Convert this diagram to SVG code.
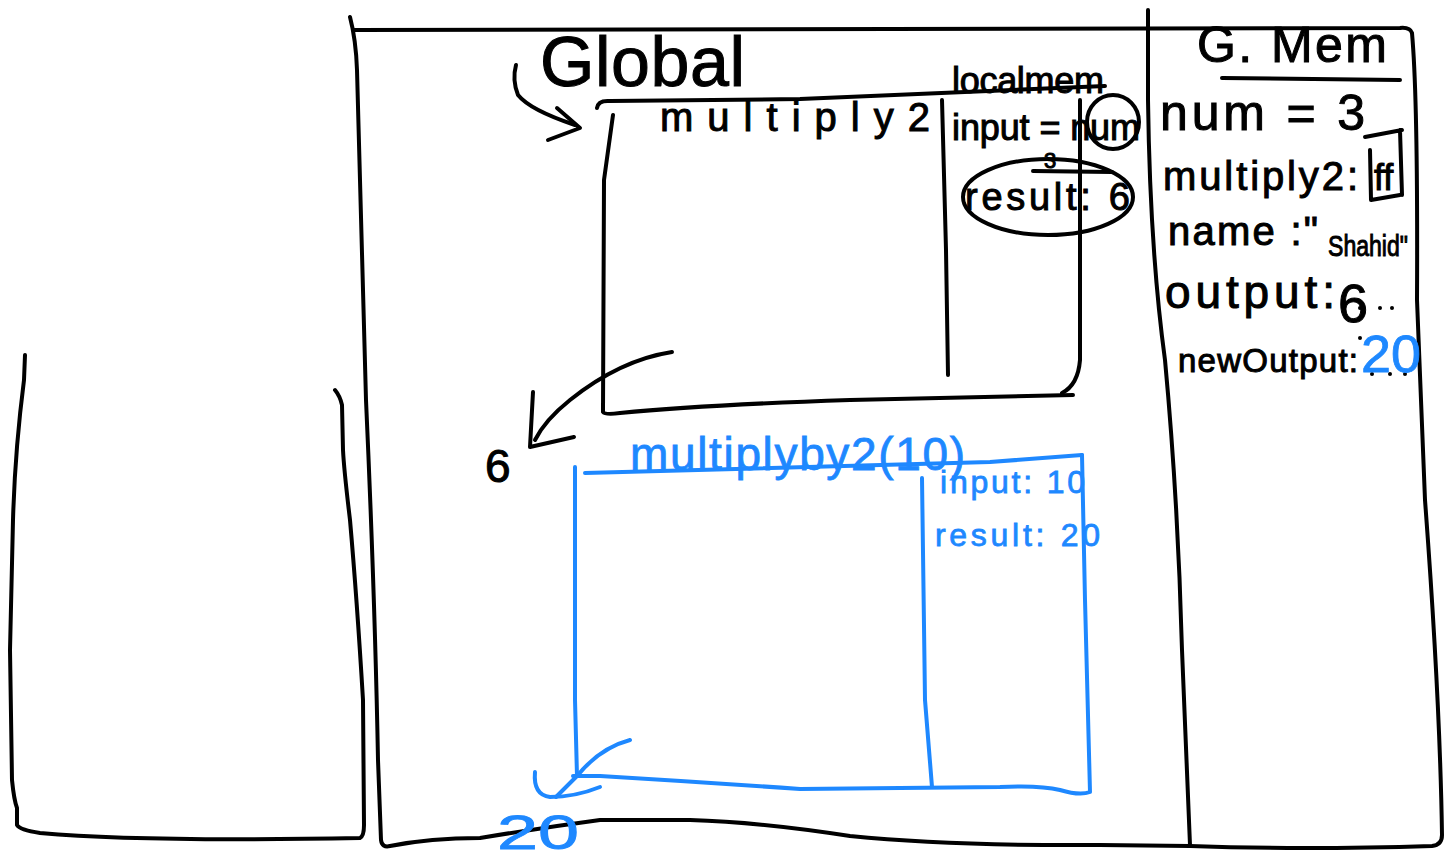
<svg xmlns="http://www.w3.org/2000/svg" width="1456" height="862" viewBox="0 0 1456 862">
<style>
.k{fill:none;stroke:#000;stroke-width:4;stroke-linecap:round;stroke-linejoin:round}
.b{fill:none;stroke:#1E88FF;stroke-width:4;stroke-linecap:round;stroke-linejoin:round}
.t{font-family:"Liberation Sans",Arial,sans-serif;fill:#000;stroke:#000;stroke-width:1}
.tb{font-family:"Liberation Sans",Arial,sans-serif;fill:#1E88FF;stroke:#1E88FF;stroke-width:0.8}
</style>
<rect width="1456" height="862" fill="#fff"/>

<g id="left-panel">
<path class="k" d="M25,355 L24,380 Q15,450 13,520 L10,650 L12,780 Q14,800 17,808 L17,825 Q20,830 40,833 Q140,842 360,838 Q364,836 364,825 L363,700 Q357,600 350,520 Q344,470 343,450 L342,405 Q340,396 335,390"/>
</g>

<g id="main-frame">
<path class="k" d="M350,17 Q356,40 357,70 L366,400 Q375,600 378,760 L381,840 Q382,848 390,846 Q430,838 480,838 Q540,828 600,820 L690,820 Q760,822 850,836 Q950,846 1100,845 L1190,846 Q1300,850 1432,846 Q1442,845 1442,835 Q1440,700 1425,500 L1417,300 Q1418,100 1412,33 Q1410,27 1400,28 L355,30"/>
<path class="k" d="M1148,10 L1148,100 Q1150,250 1165,360 Q1178,500 1182,650 L1190,845"/>
</g>

<g id="global-label">
<text class="t" x="540" y="86" font-size="70" textLength="205" lengthAdjust="spacing">Global</text>
</g>

<g id="memory">
<text class="t" x="1197" y="62" font-size="50" textLength="190" lengthAdjust="spacing">G. Mem</text>
<path class="k" d="M1222,78 L1400,80"/>
<text class="t" x="1160" y="130" font-size="50" textLength="205" lengthAdjust="spacing">num = 3</text>
<text class="t" x="1163" y="190" font-size="40" textLength="195" lengthAdjust="spacing">multiply2:</text>
<path class="k" d="M1365,137 L1402,130 M1400,130 L1402,195 M1370,150 L1371,200 L1400,195"/>
<text class="t" x="1374" y="190" font-size="36">ff</text>
<text class="t" x="1168" y="245" font-size="40" textLength="150" lengthAdjust="spacing">name :"</text>
<text class="t" x="1328" y="256" font-size="30" textLength="80" lengthAdjust="spacingAndGlyphs">Shahid"</text>
<text class="t" x="1165" y="308" font-size="46" textLength="170" lengthAdjust="spacing">output:</text>
<text class="t" x="1338" y="322" font-size="54">6</text>
<g fill="#000"><circle cx="1360" cy="308" r="2"/><circle cx="1380" cy="308" r="2"/><circle cx="1392" cy="308" r="2"/><circle cx="1372" cy="374" r="2"/><circle cx="1390" cy="374" r="2"/><circle cx="1405" cy="374" r="2"/><circle cx="1360" cy="338" r="2"/></g>
<text class="t" x="1178" y="372" font-size="33" textLength="180" lengthAdjust="spacing">newOutput:</text>
<text class="tb" x="1361" y="372" font-size="52" textLength="60" lengthAdjust="spacingAndGlyphs">20</text>
</g>

<g id="multiply2-context">
<path class="k" d="M597,108 Q598,100 610,101 L800,99 Q950,92 1105,86"/>
<path class="k" d="M613,115 L604,180 L603,412 Q605,415 620,413 Q700,405 850,400 L1073,395"/>
<path class="k" d="M1080,100 L1080,360 Q1078,385 1062,393"/>
<path class="k" d="M942,100 L946,250 L948,375"/>
<text class="t" x="660" y="131" font-size="40" textLength="270" lengthAdjust="spacing">multiply2</text>
<text class="t" x="952" y="93" font-size="36" textLength="152" lengthAdjust="spacing">localmem</text>
<text class="t" x="952" y="140" font-size="36" textLength="188" lengthAdjust="spacing">input = num</text>
<ellipse class="k" cx="1113" cy="122" rx="26" ry="27"/>
<text class="t" x="1044" y="168" font-size="22">3</text>
<path class="k" d="M1033,171 L1112,172"/>
<text class="t" x="965" y="210" font-size="38" textLength="165" lengthAdjust="spacing">result: 6</text>
<ellipse class="k" cx="1048" cy="197" rx="85" ry="38"/>
</g>

<g id="multiplyby2-context">
<path class="b" d="M585,473 Q800,468 990,462 L1082,455"/>
<path class="b" d="M1082,455 L1085,600 L1090,792 Q1080,796 1060,790 Q1040,785 1000,787 L800,789 Q700,782 600,776 L573,776"/>
<path class="b" d="M575,467 L575,700 L577,776"/>
<path class="b" d="M922,478 L925,700 L932,787"/>
<text class="tb" x="630" y="470" font-size="46" textLength="335" lengthAdjust="spacing">multiplyby2(10)</text>
<text class="tb" x="940" y="493" font-size="32" textLength="145" lengthAdjust="spacing">input: 10</text>
<text class="tb" x="935" y="546" font-size="32" textLength="165" lengthAdjust="spacing">result: 20</text>
</g>

<g id="return-values">
<text class="t" x="485" y="482" font-size="46">6</text>
<text class="tb" x="497" y="849" font-size="48" textLength="82" lengthAdjust="spacingAndGlyphs">20</text>
</g>

<g id="connectors">
<path class="k" d="M516,65 Q512,80 518,95 Q530,110 575,125"/>
<path class="k" d="M557,108 L580,128 L548,140"/>
<path class="k" d="M672,352 Q620,360 570,400 Q545,420 535,440"/>
<path class="k" d="M533,392 L530,447 L574,437"/>
<path class="b" d="M630,740 Q600,748 578,775 L556,797"/>
<path class="b" d="M535,772 Q533,795 550,797 Q575,797 600,787"/>
</g>
</svg>
